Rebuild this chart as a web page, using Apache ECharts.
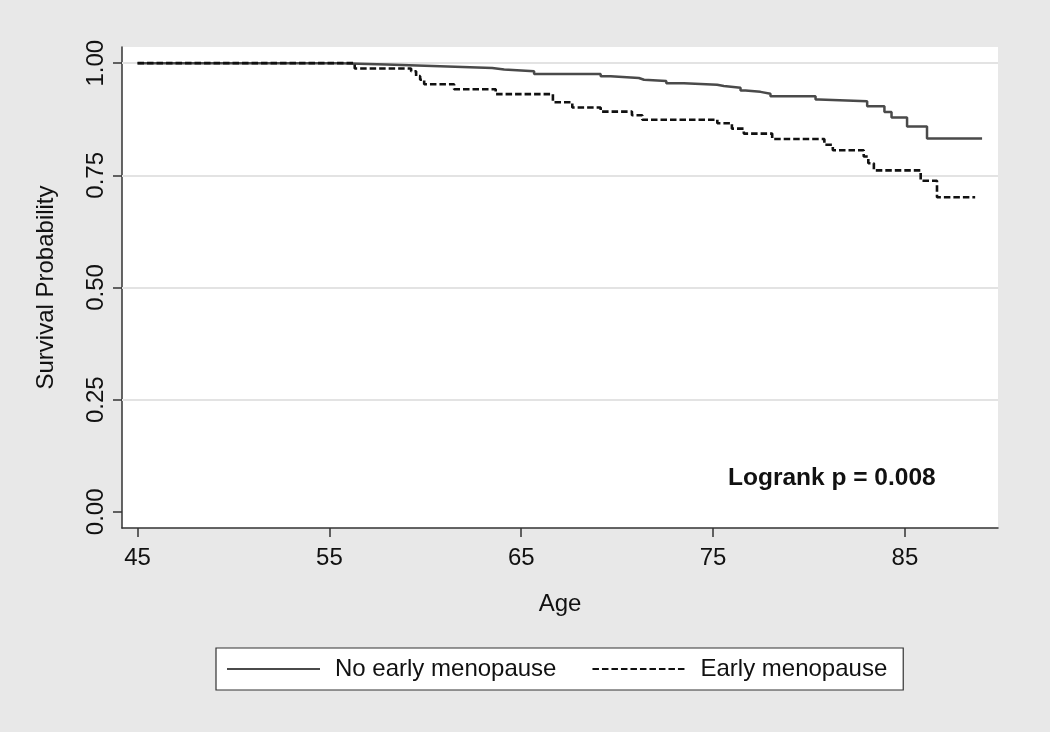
<!DOCTYPE html>
<html>
<head>
<meta charset="utf-8">
<script src="https://cdn.jsdelivr.net/npm/echarts@6/dist/echarts.min.js"></script>
<style>
html,body{margin:0;padding:0;background:#e8e8e8;}
#chart{width:1050px;height:732px;}
</style>
</head>
<body>
<div id="chart"></div>
<script>
// Category / tick data
const xTicks = [45, 55, 65, 75, 85];
const yTicks = [0, 0.25, 0.5, 0.75, 1];
const yGrid = [0.25, 0.5, 0.75, 1];
const seriesNames = ['No early menopause', 'Early menopause'];

// No early menopause (Kaplan-Meier steps)
const ageNone = [45, 55.6, 57.96, 60.77, 63.49, 64.11, 65.67, 69.14, 69.66, 71.13, 71.40, 72.56, 73.48, 75.21, 75.56, 76.43, 76.69, 77.47, 77.99, 80.34, 80.51, 83.03, 83.93, 84.30, 85.11, 86.15, 89.02];
const survNone = [1.0, 0.997, 0.993, 0.989, 0.986, 0.982, 0.976, 0.971, 0.967, 0.963, 0.960, 0.955, 0.952, 0.949, 0.945, 0.939, 0.936, 0.932, 0.926, 0.919, 0.915, 0.904, 0.891, 0.879, 0.859, 0.832, 0.832];

// Early menopause
const ageEarly = [45, 56.32, 59.26, 59.52, 59.73, 59.94, 61.5, 63.67, 66.65, 67.66, 69.14, 70.77, 71.31, 75.22, 75.98, 76.60, 78.08, 80.80, 81.24, 82.85, 83.09, 83.38, 85.82, 86.67, 88.66];
const survEarly = [1.0, 0.988, 0.982, 0.971, 0.963, 0.953, 0.942, 0.931, 0.913, 0.901, 0.892, 0.884, 0.874, 0.866, 0.854, 0.843, 0.831, 0.818, 0.806, 0.792, 0.777, 0.761, 0.738, 0.701, 0.701];

const annotation = 'Logrank p = 0.008';

const zip = (a, b) => a.map((v, i) => [v, b[i]]);
const FONT = '"Liberation Sans", Arial, sans-serif';

const chart = echarts.init(document.getElementById('chart'), null, {renderer: 'canvas'});
chart.setOption({
  backgroundColor: '#e8e8e8',
  animation: false,
  textStyle: {fontFamily: FONT, color: '#111'},
  title: {
    text: annotation,
    left: 728, top: 466,
    padding: 0,
    textStyle: {fontFamily: FONT, fontSize: 24.5, fontWeight: 'bold', color: '#111'}
  },
  grid: {
    left: 122, top: 47, width: 876, height: 481,
    show: true, backgroundColor: '#ffffff', borderWidth: 0
  },
  xAxis: {
    type: 'value', min: 44.19, max: 89.85,
    name: 'Age', nameLocation: 'middle', nameGap: 64,
    nameTextStyle: {fontFamily: FONT, fontSize: 24, color: '#111'},
    axisLine: {show: true, onZero: false, lineStyle: {color: '#333', width: 1.5}},
    axisTick: {show: true, length: 9, customValues: xTicks, lineStyle: {color: '#333', width: 1.5}},
    axisLabel: {customValues: xTicks, fontFamily: FONT, fontSize: 24, color: '#111', margin: 18},
    splitLine: {show: false}
  },
  yAxis: {
    type: 'value', min: -0.036, max: 1.036,
    name: 'Survival Probability', nameLocation: 'middle', nameGap: 64,
    nameTextStyle: {fontFamily: FONT, fontSize: 24, color: '#111'},
    axisLine: {show: true, onZero: false, lineStyle: {color: '#333', width: 1.5}},
    axisTick: {show: true, length: 9, customValues: yTicks, lineStyle: {color: '#333', width: 1.5}},
    axisLabel: {customValues: yTicks, rotate: 90, fontFamily: FONT, fontSize: 24, color: '#111', margin: 14,
      formatter: v => v.toFixed(2)},
    splitLine: {show: false}
  },
  legend: {
    data: seriesNames,
    left: 216, top: 648,
    backgroundColor: '#ffffff',
    borderColor: '#333', borderWidth: 1.2, borderRadius: 0,
    padding: [9, 16, 9, 10],
    itemGap: 35,
    itemWidth: 93, itemHeight: 14,
    itemStyle: {opacity: 0},
    textStyle: {fontFamily: FONT, fontSize: 24, color: '#111', padding: [0, 0, 0, 10]}
  },
  series: [
    {
      name: 'grid', type: 'line', data: [], silent: true, z: 1,
      markLine: {
        z: 1, silent: true, symbol: ['none', 'none'], label: {show: false},
        lineStyle: {color: '#e3e3e3', width: 2, type: 'solid'},
        data: yGrid.map(v => ({yAxis: v}))
      }
    },
    {
      name: seriesNames[0], type: 'line', step: 'end', showSymbol: false, symbol: 'none', z: 3,
      lineStyle: {color: '#4a4a4a', width: 2.5, type: 'solid'},
      itemStyle: {color: '#4a4a4a'},
      data: zip(ageNone, survNone)
    },
    {
      name: seriesNames[1], type: 'line', step: 'end', showSymbol: false, symbol: 'none', z: 4,
      lineStyle: {color: '#111', width: 2.6, type: [6.5, 3]},
      itemStyle: {color: '#111'},
      data: zip(ageEarly, survEarly)
    }
  ]
});
</script>
</body>
</html>
